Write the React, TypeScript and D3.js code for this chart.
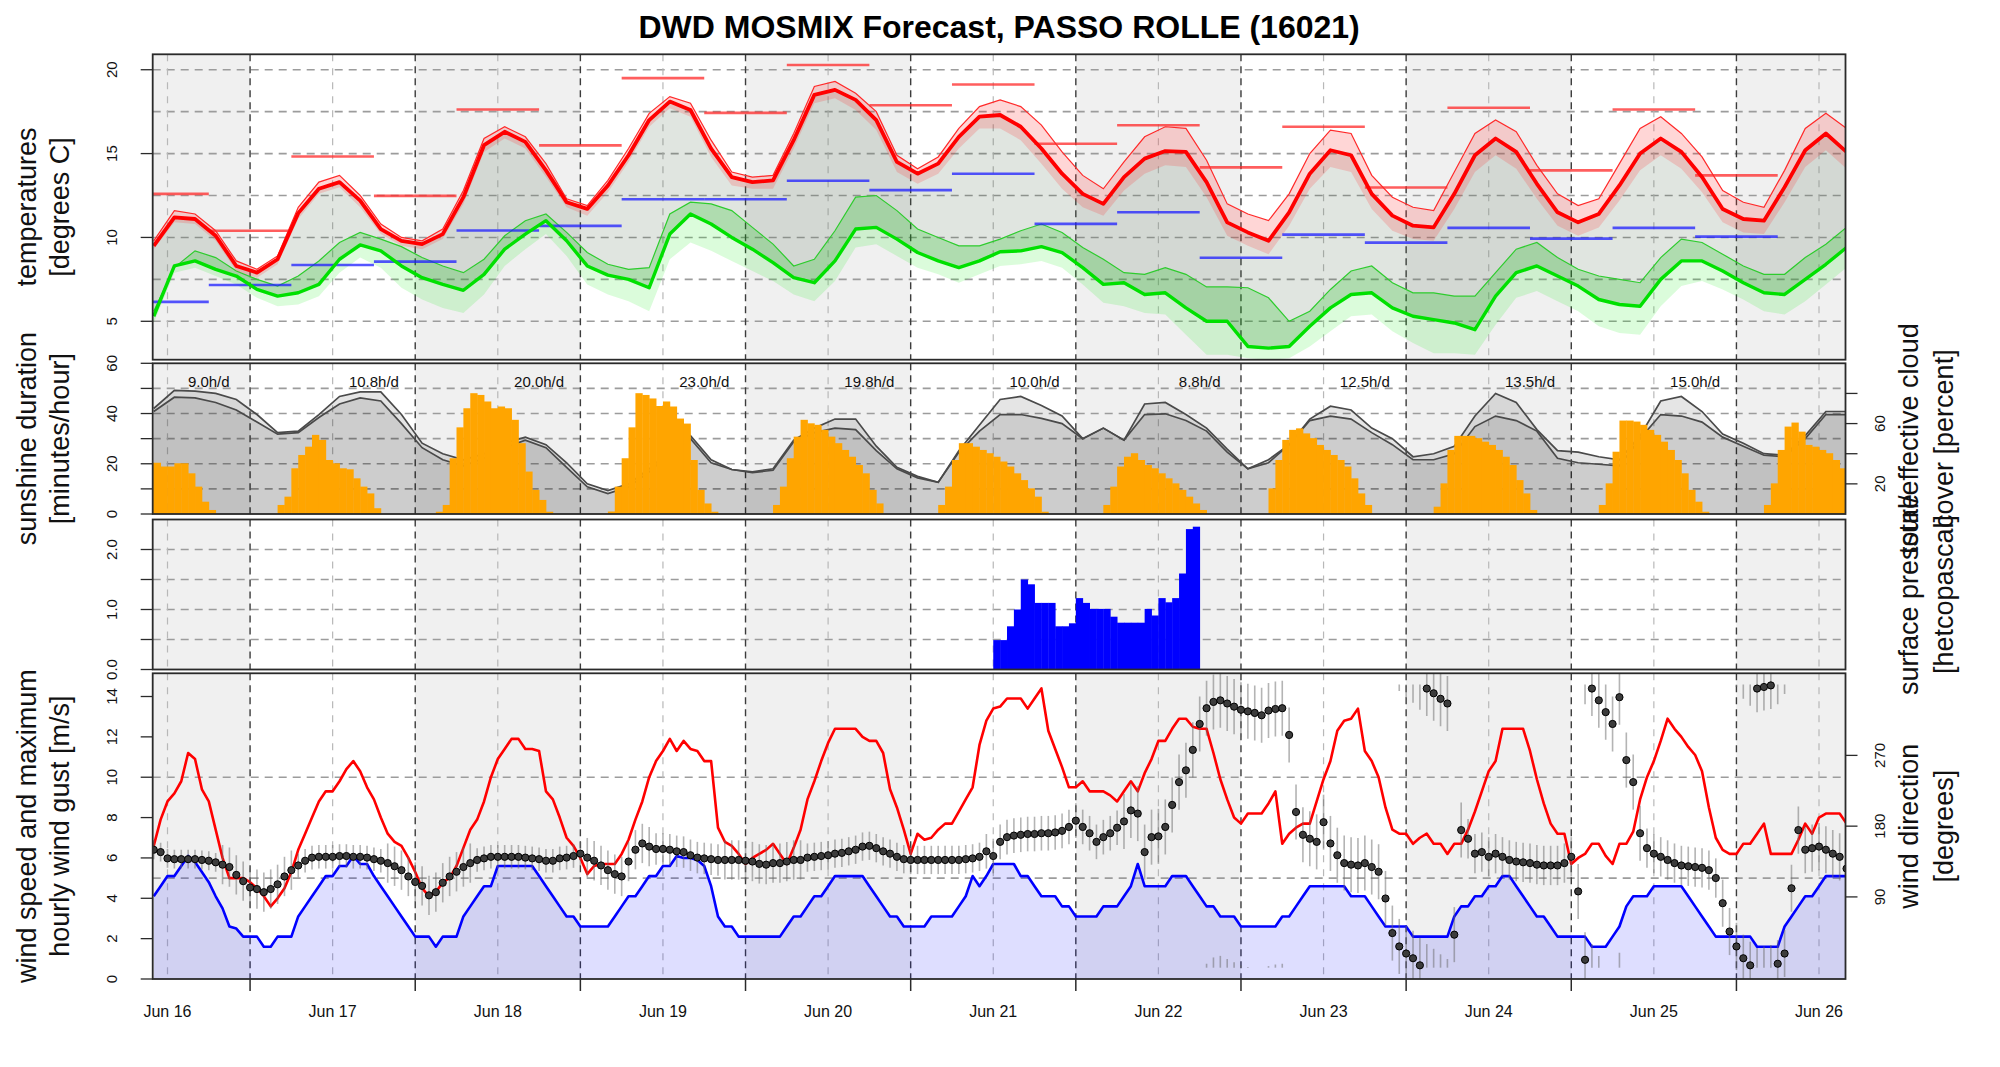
import React from "react";
import * as d3 from "d3";

// ---------------- data ----------------
const TITLE = "DWD MOSMIX Forecast, PASSO ROLLE (16021)";
const DAY_LABELS = ["Jun 16", "Jun 17", "Jun 18", "Jun 19", "Jun 20", "Jun 21", "Jun 22", "Jun 23", "Jun 24", "Jun 25", "Jun 26"];
const SUN_TOTALS = ["9.0h/d", "10.8h/d", "20.0h/d", "23.0h/d", "19.8h/d", "10.0h/d", "8.8h/d", "12.5h/d", "13.5h/d", "15.0h/d"];

// hours since Jun 16 00 UTC; temperature series sampled every 3 h from hour 10
const TEMP_START_HOUR = 10;
const TEMP_STEP = 3;
const temperature = [
  9.5, 11.2, 11.1, 10.1, 8.3, 7.9, 8.7, 11.45, 12.9, 13.3,
  12.2, 10.5, 9.8, 9.6, 10.2, 12.4, 15.5, 16.3, 15.7, 14.0,
  12.1, 11.7, 13.1, 14.9, 17.0, 18.1, 17.6, 15.3, 13.6, 13.3,
  13.4, 15.8, 18.5, 18.8, 18.2, 17.0, 14.5, 13.8, 14.4, 16.0,
  17.2, 17.3, 16.6, 15.3, 13.8, 12.6, 12.0, 13.6, 14.7, 15.15,
  15.1, 13.3, 10.9, 10.3, 9.8, 11.5, 13.8, 15.2, 14.9, 12.6,
  11.3, 10.7, 10.6, 12.6, 14.9, 15.9, 15.1, 13.2, 11.5, 10.9,
  11.4, 13.1, 15.0, 15.9, 15.1, 13.6, 11.7, 11.1, 11.0, 13.0,
  15.2, 16.2, 15.1,
];
const temperatureUpper = [
  9.8, 11.6, 11.4, 10.4, 8.6, 8.1, 8.9, 11.8, 13.3, 13.7,
  12.5, 10.8, 10.0, 9.8, 10.5, 12.8, 15.9, 16.6, 16.0, 14.4,
  12.3, 11.9, 13.4, 15.3, 17.4, 18.4, 18.0, 15.8, 13.9, 13.6,
  13.7, 16.2, 19.0, 19.3, 18.6, 17.5, 14.9, 14.1, 14.8, 16.5,
  17.8, 18.2, 17.8, 16.7, 15.1, 13.7, 12.9, 14.5, 16.0, 16.6,
  16.5, 14.6, 12.0, 11.4, 11.0, 12.6, 15.0, 16.4, 16.2, 13.7,
  12.4, 11.8, 11.6, 13.9, 16.2, 17.0, 16.3, 14.3, 12.6, 11.9,
  12.3, 14.4, 16.5, 17.2, 16.2, 14.8, 12.8, 12.1, 11.8, 14.0,
  16.5, 17.4, 16.5,
];
const temperatureLower = [
  9.3, 10.9, 10.8, 9.8, 8.0, 7.6, 8.4, 11.1, 12.6, 13.0,
  11.8, 10.2, 9.5, 9.3, 9.9, 12.0, 15.1, 15.9, 15.3, 13.6,
  11.8, 11.3, 12.7, 14.5, 16.6, 17.7, 17.2, 14.8, 13.1, 12.9,
  12.9, 15.3, 18.0, 18.3, 17.6, 16.4, 13.9, 13.2, 13.8, 15.3,
  16.5, 16.5, 15.8, 14.4, 12.9, 11.8, 11.3, 12.8, 13.8, 14.3,
  14.2, 12.4, 10.1, 9.5, 9.0, 10.7, 12.9, 14.2, 13.9, 11.7,
  10.4, 9.9, 9.8, 11.7, 13.9, 14.9, 14.1, 12.3, 10.7, 10.1,
  10.6, 12.2, 14.0, 14.9, 14.1, 12.7, 10.9, 10.3, 10.2, 12.1,
  14.2, 15.2, 14.1,
];
const dewPoint = [
  5.3, 8.3, 8.6, 8.1, 7.7, 6.9, 6.5, 6.7, 7.2, 8.7,
  9.55, 9.2, 8.3, 7.6, 7.2, 6.85, 7.8, 9.3, 10.2, 11.0,
  9.8, 8.3, 7.75, 7.5, 7.0, 10.2, 11.4, 10.8, 10.0, 9.3,
  8.5, 7.6, 7.3, 8.6, 10.5, 10.6, 9.9, 9.1, 8.6, 8.2,
  8.6, 9.15, 9.2, 9.45, 9.1, 8.2, 7.2, 7.3, 6.6, 6.7,
  5.8, 5.0, 5.0, 3.5, 3.4, 3.5, 4.7, 5.8, 6.6, 6.7,
  5.8, 5.3, 5.1, 4.9, 4.5, 6.5, 7.9, 8.3, 7.7, 7.1,
  6.3, 6.0, 5.9, 7.5, 8.6, 8.6, 8.0, 7.3, 6.7, 6.6,
  7.5, 8.4, 9.4,
];
const dewPointUpper = [
  5.6, 8.2, 9.2, 8.8, 8.0, 7.5, 7.1, 7.7, 8.6, 9.7,
  10.3, 9.9, 9.45, 8.8, 8.3, 7.9, 8.7, 10.1, 11.0, 11.4,
  10.3, 9.1, 8.4, 8.1, 8.2, 11.4, 12.1, 12.0, 11.6, 10.6,
  9.6, 8.3, 8.7, 10.4, 12.4, 12.5, 11.6, 10.5, 10.0, 9.5,
  9.5, 9.9, 10.4, 10.8, 10.3, 9.4, 8.7, 7.9, 7.8, 8.2,
  7.8, 7.05, 7.05, 7.0, 6.4, 5.0, 5.6, 6.9, 8.0, 8.3,
  7.3, 6.7, 6.7, 6.5, 6.5, 7.9, 9.3, 9.7, 8.8, 8.1,
  7.7, 7.5, 7.3, 8.8, 9.9, 9.7, 9.0, 8.3, 7.8, 7.8,
  8.8, 9.6, 10.6,
];
const dewPointLower = [
  4.9, 7.9, 8.2, 7.7, 7.2, 6.4, 5.9, 6.0, 6.5, 7.9,
  8.8, 8.2, 7.0, 6.3, 5.8, 5.5, 6.6, 8.3, 9.3, 10.2,
  8.9, 7.2, 6.6, 6.2, 5.6, 8.7, 9.7, 9.2, 8.6, 8.0,
  7.4, 6.6, 6.2, 7.4, 9.4, 9.6, 8.9, 8.2, 7.8, 7.3,
  7.8, 8.3, 8.4, 8.6, 8.2, 7.2, 6.1, 5.9, 5.5, 5.4,
  4.2, 3.0, 3.0, 2.8, 2.7, 2.8, 3.5, 4.4, 5.3, 5.4,
  4.4, 3.7, 3.1, 3.1, 3.0, 4.8, 6.4, 6.8, 6.2, 5.6,
  4.7, 4.3, 4.2, 5.9, 7.1, 7.4, 6.9, 6.3, 5.6, 5.4,
  6.2, 7.2, 8.2,
];

// 12-hourly extremes (start hour of each 12 h window)
const extremeStartHours = [6, 18, 30, 42, 54, 66, 78, 90, 102, 114, 126, 138, 150, 162, 174, 186, 198, 210, 222, 234];
const maxTemp12h = [12.6, 10.4, 14.83, 12.48, 17.63, 15.49, 19.5, 17.43, 20.28, 17.88, 19.12, 15.59, 16.69, 14.18, 16.6, 12.98, 17.73, 14.0, 17.63, 13.7];
const minTemp12h = [6.16, 7.16, 8.36, 8.56, 10.41, 10.69, 12.28, 12.28, 13.38, 12.82, 13.8, 10.81, 11.5, 8.79, 10.17, 9.69, 10.57, 9.93, 10.57, 10.05];

// cloud cover [%], same 3 h grid
const cloudTotal = [
  70, 82, 81.5, 80, 76, 66, 54, 55, 66, 78,
  81, 81, 66, 47, 40, 36, 40, 47, 51, 46,
  34, 20, 15.5, 20, 30, 42, 52, 36, 29.5, 28,
  30, 49, 57, 63, 63, 45, 31, 25, 21, 42,
  59, 76, 78, 72, 65, 50, 57, 49, 73, 74,
  66, 57, 43, 30, 36, 46, 63, 71.5, 69, 57,
  50, 38, 40, 45, 65, 80, 74, 56, 42, 41,
  38, 36, 52, 75, 78, 68, 53, 47, 40, 39,
  52, 68, 68,
];
const cloudEffective = [
  68, 77.5, 77, 74, 69, 61, 53, 54, 64, 73,
  77, 75, 60, 44, 36, 32, 37, 44, 49, 44,
  31, 18, 13.5, 18, 28, 40, 50, 34, 29.5, 27.5,
  29, 48, 54, 57, 56, 42, 30, 24, 21, 41,
  55, 66, 66, 63.5, 60, 50, 57, 49, 66, 66.5,
  62, 55, 41, 30, 34, 46, 62, 65, 63, 54,
  46, 36, 36, 40, 58, 65, 62, 55, 37, 34,
  33, 32, 50, 66, 65, 61, 51, 45, 39, 38,
  50, 66, 66,
];

// hourly sunshine [min/h], one list per day starting at the given hour
const sunDayStart = [9, 28, 51, 76, 100, 124, 148, 172, 196, 220, 244];
const sunDayMinutes = [
  [20.4, 20.4, 18.9, 18.9, 20.2, 20.2, 16.2, 10.9, 4.9, 1.6],
  [3.6, 6.9, 18.2, 23.5, 26.8, 31.5, 29.5, 21.5, 20.2, 18.2, 17.8, 14.2, 10.9, 8.2, 2.3],
  [0.9, 3.6, 22.2, 34.5, 42.1, 48.1, 47.4, 44.8, 42.1, 42.8, 42.1, 37.5, 28.2, 16.9, 9.6, 5.6, 0.9],
  [1.0, 10.9, 22.2, 34.5, 48.1, 47.4, 46.0, 43.0, 44.8, 42.8, 38.0, 36.0, 21.5, 9.6, 4.2, 0.9],
  [3.6, 10.9, 22.2, 30.8, 37.5, 36.1, 35.5, 33.5, 30.8, 28.2, 25.5, 22.8, 19.5, 16.2, 9.6, 4.2],
  [3.6, 10.9, 21.5, 28.2, 28.2, 26.8, 25.5, 24.2, 22.8, 20.9, 18.9, 16.2, 13.5, 10.2, 6.9, 0.9],
  [3.6, 10.9, 18.9, 22.8, 24.2, 21.5, 19.5, 18.2, 16.2, 14.2, 12.2, 9.6, 6.9, 4.2, 1.6],
  [10.2, 21.5, 29.5, 33.5, 34.1, 32.1, 30.2, 27.5, 25.5, 23.5, 21.5, 18.9, 14.2, 8.2, 3.6],
  [2.9, 12.2, 25.5, 31.1, 31.1, 31.1, 30.2, 28.8, 27.5, 25.5, 22.8, 19.5, 13.5, 8.2, 1.6],
  [3.6, 12.2, 24.8, 37.2, 37.2, 36.8, 35.5, 33.5, 31.5, 28.8, 25.5, 21.5, 16.2, 9.6, 4.9, 0.9],
  [3.6, 12.2, 25.5, 34.8, 36.4, 32.8, 27.5, 26.8, 25.5, 24.2, 21.5, 18.2],
];

// hourly bars in the third panel, from hour 132
const precipStartHour = 132;
const precip = [
  0.49, 0.49, 0.72, 1.0, 1.5, 1.42, 1.11, 1.11, 1.11, 0.72,
  0.72, 0.77, 1.19, 1.11, 1.01, 1.01, 1.01, 0.88, 0.78, 0.78,
  0.78, 0.78, 1.01, 0.9, 1.19, 1.12, 1.19, 1.6, 2.34, 2.38,
];

// hourly wind from hour 10
const WIND_START_HOUR = 10;
const windSpeed = [
  4.1, 4.6, 5.1, 5.1, 5.6, 6.1, 5.8, 5.3, 4.8, 4.1,
  3.5, 2.6, 2.5, 2.1, 2.1, 2.1, 1.6, 1.6, 2.1, 2.1,
  2.1, 3.1, 3.6, 4.1, 4.6, 5.1, 5.1, 5.6, 5.6, 6.1,
  5.7, 5.7, 5.1, 4.6, 4.1, 3.6, 3.1, 2.6, 2.1, 2.1,
  2.1, 1.6, 2.1, 2.1, 2.1, 3.1, 3.6, 4.1, 4.6, 4.6,
  5.6, 5.6, 5.6, 5.6, 5.6, 5.6, 5.1, 4.6, 4.1, 3.6,
  3.1, 3.1, 2.6, 2.6, 2.6, 2.6, 2.6, 3.1, 3.6, 4.1,
  4.1, 4.6, 5.1, 5.1, 5.6, 5.6, 6.1, 6.0, 6.0, 5.9,
  5.6, 4.6, 3.1, 2.6, 2.6, 2.1, 2.1, 2.1, 2.1, 2.1,
  2.1, 2.1, 2.6, 3.1, 3.1, 3.6, 4.1, 4.1, 4.6, 5.1,
  5.1, 5.1, 5.1, 5.1, 4.6, 4.1, 3.6, 3.1, 3.1, 2.6,
  2.6, 2.6, 2.6, 3.1, 3.1, 3.1, 3.1, 3.6, 4.1, 5.1,
  4.6, 5.1, 5.7, 5.7, 5.7, 5.7, 5.1, 5.1, 4.6, 4.1,
  4.1, 4.1, 3.6, 3.6, 3.1, 3.1, 3.1, 3.1, 3.6, 3.6,
  3.6, 4.1, 4.6, 5.7, 4.6, 4.6, 4.6, 4.6, 5.1, 5.1,
  5.1, 4.6, 4.1, 3.6, 3.6, 3.1, 3.1, 3.1, 2.6, 2.6,
  2.6, 2.6, 2.6, 2.6, 3.1, 3.1, 3.6, 4.1, 4.6, 4.6,
  4.6, 4.6, 4.6, 4.6, 4.1, 4.1, 4.1, 3.6, 3.1, 2.6,
  2.6, 2.6, 2.6, 2.1, 2.1, 2.1, 2.1, 2.1, 2.1, 3.1,
  3.6, 3.6, 4.1, 4.1, 4.6, 4.6, 5.1, 5.1, 4.6, 4.1,
  3.6, 3.1, 3.1, 2.6, 2.1, 2.1, 2.1, 2.1, 2.1, 1.6,
  1.6, 1.6, 2.1, 2.6, 3.6, 4.1, 4.1, 4.1, 4.6, 4.6,
  4.6, 4.6, 4.6, 4.1, 3.6, 3.1, 2.6, 2.1, 2.1, 2.1,
  2.1, 2.1, 2.1, 1.6, 1.6, 1.6, 1.6, 2.6, 3.1, 3.6,
  4.1, 4.1, 4.6, 5.1, 5.1, 5.1, 5.1,
];
const windGust = [
  6.6, 7.9, 8.8, 9.2, 9.8, 11.2, 10.9, 9.4, 8.8, 7.4,
  6.0, 5.0, 5.0, 5.0, 4.8, 4.5, 4.1, 3.6, 4.0, 4.5,
  5.3, 6.4, 7.2, 8.0, 8.8, 9.3, 9.3, 9.8, 10.4, 10.8,
  10.3, 9.5, 8.9, 8.0, 7.2, 6.8, 6.6, 6.0, 5.3, 4.5,
  4.1, 4.3, 4.8, 5.0, 5.6, 6.5, 7.4, 7.9, 8.8, 10.0,
  10.9, 11.4, 11.9, 11.9, 11.4, 11.4, 11.3, 9.3, 8.9, 8.0,
  7.0, 6.6, 6.0, 5.2, 5.6, 5.7, 5.7, 5.7, 6.2, 6.9,
  7.9, 8.8, 10.0, 10.8, 11.3, 11.9, 11.3, 11.8, 11.4, 11.3,
  10.8, 10.8, 7.5, 6.8, 6.6, 6.2, 5.7, 6.0, 6.2, 6.4,
  6.7, 6.2, 5.7, 6.5, 7.4, 8.9, 9.8, 10.8, 11.7, 12.4,
  12.4, 12.4, 12.4, 12.0, 11.8, 11.8, 11.2, 9.4, 8.5, 7.4,
  6.2, 7.2, 6.9, 7.0, 7.4, 7.7, 7.7, 8.3, 8.9, 9.5,
  11.6, 12.8, 13.4, 13.5, 13.9, 13.9, 13.9, 13.4, 13.9, 14.4,
  12.3, 11.4, 10.5, 9.5, 9.5, 9.8, 9.3, 9.3, 9.3, 9.1,
  8.8, 9.3, 9.8, 9.3, 10.2, 10.9, 11.8, 11.8, 12.4, 12.9,
  12.9, 12.5, 12.4, 12.4, 11.2, 9.9, 8.9, 8.0, 7.7, 8.2,
  8.2, 8.2, 8.7, 9.3, 6.7, 7.2, 7.5, 7.7, 7.7, 8.8,
  9.9, 10.8, 12.3, 12.8, 12.9, 13.4, 11.3, 10.8, 10.0, 8.5,
  7.4, 7.2, 7.2, 6.7, 7.0, 7.2, 6.7, 6.7, 6.2, 6.7,
  6.7, 7.4, 8.3, 9.3, 10.3, 10.8, 12.4, 12.4, 12.4, 12.4,
  11.3, 9.9, 8.7, 7.7, 7.2, 7.2, 5.7, 6.0, 6.2, 6.7,
  6.7, 6.1, 5.7, 6.7, 6.7, 7.3, 8.9, 10.0, 10.8, 11.8,
  12.9, 12.4, 12.0, 11.5, 11.1, 10.3, 8.5, 7.0, 6.4, 6.2,
  6.2, 6.7, 6.7, 7.2, 7.7, 6.2, 6.2, 6.2, 6.2, 6.9,
  7.7, 7.2, 8.0, 8.2, 8.2, 8.2, 7.7,
];
const windDir = [
  150, 147, 139, 138, 138, 138, 138, 137, 136, 134,
  131, 128, 118, 110, 102, 100, 96, 100, 106, 116,
  124, 130, 136, 140, 141, 141, 141, 142, 142, 141,
  141, 140, 138, 136, 133, 129, 124, 116, 109, 104,
  92, 96, 108, 116, 122, 128, 133, 137, 139, 141,
  141, 141, 141, 141, 140, 139, 138, 136, 136, 139,
  140, 142, 145, 140, 136, 130, 124, 119, 116, 135,
  150, 158, 154, 151, 151, 150, 148, 147, 143, 140,
  139, 138, 137, 137, 137, 137, 136, 135, 132, 131,
  133, 133, 135, 137, 137, 140, 141, 142, 143, 145,
  146, 148, 150, 154, 155, 152, 148, 145, 141, 138,
  137, 137, 137, 137, 137, 137, 137, 137, 138, 139,
  141, 148, 142, 160, 166, 168, 169, 170, 170, 171,
  171, 172, 174, 179, 187, 179, 171, 160, 166, 171,
  178, 186, 200, 196, 147, 166, 167, 179, 207, 236,
  251, 277, 310, 330, 338, 340, 336, 332, 328, 326,
  324, 321, 327, 329, 330, 296, 198, 169, 164, 160,
  185, 158, 143, 133, 131, 130, 133, 128, 122, 88,
  44, 27, 18, 12, 3, 355, 349, 342, 336, 42,
  175, 164, 145, 147, 141, 145, 141, 137, 135, 134,
  133, 131, 130, 130, 130, 133, 141, 97, 10, 355,
  340, 325, 310, 344, 264, 236, 171, 152, 145, 141,
  137, 133, 130, 129, 128, 127, 124, 114, 82, 46,
  27, 12, 3, 355, 357, 359, 5, 18, 101, 175,
  150, 152, 154, 150, 145, 141, 126,
];
// [from hour, to hour, +/- degrees]
const windDirSpread = [
  [10, 19, 12], [20, 30, 25], [31, 43, 15], [44, 56, 25], [57, 72, 15], [73, 82, 25],
  [83, 92, 20], [93, 104, 25], [105, 130, 18], [131, 150, 22], [151, 200, 35],
  [201, 216, 25], [217, 226, 35], [227, 237, 25], [238, 256, 30],
];

// ---------------- layout ----------------
const W = 2000;
const H = 1067;
const X0 = 152.7;
const X1 = 1845.5;
const T0 = 9.85;
const T1 = 255.85;
const P1 = { top: 54.3, bottom: 359.7 };
const P2 = { top: 363.3, bottom: 514 };
const P3 = { top: 519.5, bottom: 669.5 };
const P4 = { top: 673.3, bottom: 979 };
const FONT = "'Liberation Sans', Arial, Helvetica, sans-serif";

const x = d3.scaleLinear().domain([T0, T1]).range([X0, X1]);
const yT = d3.scaleLinear().domain([2.71, 20.92]).range([P1.bottom, P1.top]);
const ySun = d3.scaleLinear().domain([0, 60]).range([P2.bottom, P2.top]);
const yCloud = d3.scaleLinear().domain([0, 100]).range([P2.bottom, P2.top]);
const yP = d3.scaleLinear().domain([0, 2.5]).range([P3.bottom, P3.top]);
const yW = d3.scaleLinear().domain([0, 15.15]).range([P4.bottom, P4.top]);
const yDir = d3.scaleLinear().domain([-14.4, 374.4]).range([P4.bottom, P4.top]);

const hours3 = temperature.map((_, i) => TEMP_START_HOUR + i * TEMP_STEP);
const hours1 = windSpeed.map((_, i) => WIND_START_HOUR + i);
const dayIndex = d3.range(0, 11);
const midnights = d3.range(24, 241, 24);
const noons = d3.range(12, 253, 24);

function spreadAt(h: number) {
  for (const [a, b, s] of windDirSpread) if (h >= a && h <= b) return s;
  return 20;
}

function bandLine(values: number[], hours: number[], y: any) {
  return d3.line<number>().x((_, i) => x(hours[i])).y((d) => y(d))(values) || "";
}
function bandArea(lo: number[], hi: number[], hours: number[], y: any) {
  return (
    d3
      .area<number>()
      .x((_, i) => x(hours[i]))
      .y0((d) => y(d))
      .y1((_, i) => y(hi[i]))(lo) || ""
  );
}

function Background({ p }: any) {
  return (
    <g>
      <rect x={X0} y={p.top} width={X1 - X0} height={p.bottom - p.top} fill="#ffffff" />
      {dayIndex.map((k) =>
        k % 2 === 0 ? (
          <rect
            key={k}
            x={x(Math.max(24 * k, T0))}
            y={p.top}
            width={x(Math.min(24 * k + 24, T1)) - x(Math.max(24 * k, T0))}
            height={p.bottom - p.top}
            fill="#f0f0f0"
          />
        ) : null
      )}
    </g>
  );
}

function Grid({ p, y, values }: any) {
  return (
    <g>
      {values.map((v: number) => (
        <line key={"h" + v} x1={X0} x2={X1} y1={y(v)} y2={y(v)} stroke="#9c9c9c" strokeWidth={1.6} strokeDasharray="8,6" />
      ))}
      {noons.map((h) => (
        <line key={"n" + h} x1={x(h)} x2={x(h)} y1={p.top} y2={p.bottom} stroke="#b8b8b8" strokeWidth={1.2} strokeDasharray="7,7" />
      ))}
      {midnights.map((h) => (
        <line key={"m" + h} x1={x(h)} x2={x(h)} y1={p.top} y2={p.bottom} stroke="#3c3c3c" strokeWidth={1.4} strokeDasharray="7,5" />
      ))}
    </g>
  );
}

function Frame({ p }: any) {
  return <rect x={X0} y={p.top} width={X1 - X0} height={p.bottom - p.top} fill="none" stroke="#2a2a2a" strokeWidth={1.8} />;
}

function LeftAxis({ y, ticks, labels, fmt }: any) {
  return (
    <g>
      {ticks.map((v: number) => (
        <line key={"t" + v} x1={X0 - 12} x2={X0} y1={y(v)} y2={y(v)} stroke="#2a2a2a" strokeWidth={1.3} />
      ))}
      {labels.map((v: number) => (
        <text key={"l" + v} transform={`translate(112,${y(v)}) rotate(-90)`} textAnchor="middle" dy="0.35em" fontSize={15} fill="#111">
          {fmt(v)}
        </text>
      ))}
    </g>
  );
}

function RightAxis({ y, ticks, labels }: any) {
  return (
    <g>
      {ticks.map((v: number) => (
        <line key={"t" + v} x1={X1} x2={X1 + 12} y1={y(v)} y2={y(v)} stroke="#2a2a2a" strokeWidth={1.3} />
      ))}
      {labels.map((v: number) => (
        <text key={"l" + v} transform={`translate(1880,${y(v)}) rotate(-90)`} textAnchor="middle" dy="0.35em" fontSize={15} fill="#111">
          {String(v)}
        </text>
      ))}
    </g>
  );
}

function Title2({ lines, y, cols }: any) {
  return (
    <g>
      {lines.map((t: string, i: number) => (
        <text key={i} transform={`translate(${cols[i]},${y}) rotate(-90)`} textAnchor="middle" dy="0.35em" fontSize={27} fill="#111">
          {t}
        </text>
      ))}
    </g>
  );
}

export default function App() {
  const clip = (id: string, p: any) => (
    <clipPath id={id}>
      <rect x={X0} y={p.top} width={X1 - X0} height={p.bottom - p.top} />
    </clipPath>
  );

  // wind direction error bars (with wrap-around at 0/360)
  const dirBars: any[] = [];
  windDir.forEach((d, i) => {
    const h = hours1[i];
    const s = spreadAt(h);
    const segs: [number, number][] = [[d - s, d + s]];
    if (d - s < 0) segs.push([d - s + 360, 360]);
    if (d + s > 360) segs.push([0, d + s - 360]);
    segs.forEach(([a, b], j) =>
      dirBars.push(
        <line key={i + "_" + j} x1={x(h)} x2={x(h)} y1={yDir(a)} y2={yDir(b)} stroke="rgba(105,105,105,0.5)" strokeWidth={1.6} />
      )
    );
  });

  return (
    <svg width={W} height={H} style={{ position: "absolute", left: 0, top: 0, background: "#ffffff" }} fontFamily={FONT}>
      <defs>
        {clip("c1", P1)}
        {clip("c2", P2)}
        {clip("c3", P3)}
        {clip("c4", P4)}
      </defs>
      <rect x={0} y={0} width={W} height={H} fill="#ffffff" />

      <text x={(X0 + X1) / 2} y={38} textAnchor="middle" fontSize={32} fontWeight="bold" fill="#000">
        {TITLE}
      </text>

      {/* ---------- panel 1: temperatures ---------- */}
      <Background p={P1} />
      <Grid p={P1} y={yT} values={[5, 7.5, 10, 12.5, 15, 17.5, 20]} />
      <g clipPath="url(#c1)">
        <path d={bandArea(dewPoint, temperature, hours3, yT)} fill="rgba(70,100,70,0.17)" />
        <path d={bandArea(dewPointLower, dewPoint, hours3, yT)} fill="rgba(0,235,0,0.14)" />
        <path d={bandArea(dewPoint, dewPointUpper, hours3, yT)} fill="rgba(0,190,0,0.22)" />
        <path d={bandLine(dewPointUpper, hours3, yT)} fill="none" stroke="#2ecc2e" strokeWidth={1.2} />
        <path d={bandArea(temperatureLower, temperatureUpper, hours3, yT)} fill="rgba(255,50,50,0.2)" />
        <path d={bandLine(temperatureUpper, hours3, yT)} fill="none" stroke="#ff2a2a" strokeWidth={1.2} />
        {extremeStartHours.map((h, i) => (
          <line key={"tx" + i} x1={x(h)} x2={x(h + 12)} y1={yT(maxTemp12h[i])} y2={yT(maxTemp12h[i])} stroke="rgba(255,40,40,0.75)" strokeWidth={2.6} />
        ))}
        {extremeStartHours.map((h, i) => (
          <line key={"tn" + i} x1={x(h)} x2={x(h + 12)} y1={yT(minTemp12h[i])} y2={yT(minTemp12h[i])} stroke="rgba(30,30,255,0.75)" strokeWidth={2.6} />
        ))}
        <path d={bandLine(dewPoint, hours3, yT)} fill="none" stroke="#00e000" strokeWidth={3.4} strokeLinejoin="round" />
        <path d={bandLine(temperature, hours3, yT)} fill="none" stroke="#ff0000" strokeWidth={3.8} strokeLinejoin="round" />
      </g>
      <Frame p={P1} />
      <LeftAxis y={yT} ticks={[5, 10, 15, 20]} labels={[5, 10, 15, 20]} fmt={(v: number) => String(v)} />

      {/* ---------- panel 2: sunshine / cloud ---------- */}
      <Background p={P2} />
      <Grid p={P2} y={ySun} values={[10, 20, 30, 40, 50]} />
      <g clipPath="url(#c2)">
        <path d={d3.area<number>().x((_, i) => x(hours3[i])).y0(yCloud(0)).y1((d) => yCloud(d))(cloudTotal) || ""} fill="rgba(0,0,0,0.1)" />
        <path d={d3.area<number>().x((_, i) => x(hours3[i])).y0(yCloud(0)).y1((d) => yCloud(d))(cloudEffective) || ""} fill="rgba(0,0,0,0.1)" />
        <path d={bandLine(cloudTotal, hours3, yCloud)} fill="none" stroke="#4a4a4a" strokeWidth={1.7} />
        <path d={bandLine(cloudEffective, hours3, yCloud)} fill="none" stroke="#4a4a4a" strokeWidth={1.7} />
        {sunDayMinutes.map((vals, k) =>
          vals.map((v, j) => {
            const h = sunDayStart[k] + j;
            return (
              <rect key={k + "_" + j} x={x(h)} y={ySun(v)} width={x(h + 1) - x(h) + 0.4} height={ySun(0) - ySun(v)} fill="#ffa500" />
            );
          })
        )}
      </g>
      {SUN_TOTALS.map((t, k) => (
        <text key={t + k} x={x(18 + 24 * k)} y={387} textAnchor="middle" fontSize={15} fill="#111">
          {t}
        </text>
      ))}
      <Frame p={P2} />
      <LeftAxis y={ySun} ticks={[0, 10, 20, 30, 40, 50, 60]} labels={[0, 20, 40, 60]} fmt={(v: number) => String(v)} />
      <RightAxis y={yCloud} ticks={[20, 40, 60, 80]} labels={[20, 60]} />

      {/* ---------- panel 3 ---------- */}
      <Background p={P3} />
      <Grid p={P3} y={yP} values={[0.5, 1, 1.5, 2]} />
      <g clipPath="url(#c3)">
        {precip.map((v, j) => {
          const h = precipStartHour + j;
          return <rect key={j} x={x(h)} y={yP(v)} width={x(h + 1) - x(h) + 0.4} height={yP(0) - yP(v)} fill="#0000ff" />;
        })}
      </g>
      <Frame p={P3} />
      <LeftAxis y={yP} ticks={[0, 0.5, 1, 1.5, 2]} labels={[0, 1, 2]} fmt={(v: number) => v.toFixed(1)} />

      {/* ---------- panel 4: wind ---------- */}
      <Background p={P4} />
      <Grid p={P4} y={yW} values={[5, 10]} />
      <g clipPath="url(#c4)">
        <path d={d3.area<number>().x((_, i) => x(hours1[i])).y0(yW(0)).y1((d) => yW(d))(windSpeed) || ""} fill="rgba(0,0,255,0.13)" />
        <path d={bandLine(windSpeed, hours1, yW)} fill="none" stroke="#0000ff" strokeWidth={2.6} strokeLinejoin="round" />
        <path d={bandLine(windGust, hours1, yW)} fill="none" stroke="#ff0000" strokeWidth={2.6} strokeLinejoin="round" />
        {dirBars}
        {windDir.map((d, i) => (
          <circle key={i} cx={x(hours1[i])} cy={yDir(d)} r={3.6} fill="#3c3c3c" stroke="#000" strokeWidth={1} />
        ))}
      </g>
      <Frame p={P4} />
      <LeftAxis y={yW} ticks={[0, 2, 4, 6, 8, 10, 12, 14]} labels={[0, 2, 4, 6, 8, 10, 12, 14]} fmt={(v: number) => String(v)} />
      <RightAxis y={yDir} ticks={[90, 180, 270]} labels={[90, 180, 270]} />

      {/* x axis */}
      {midnights.map((h) => (
        <line key={"xt" + h} x1={x(h)} x2={x(h)} y1={P4.bottom} y2={P4.bottom + 12} stroke="#2a2a2a" strokeWidth={1.5} />
      ))}
      {DAY_LABELS.map((t, k) => (
        <text key={t} x={x(12 + 24 * k)} y={1017} textAnchor="middle" fontSize={16} fill="#111">
          {t}
        </text>
      ))}

      {/* axis titles */}
      <Title2 lines={["temperatures", "[degrees C]"]} y={(P1.top + P1.bottom) / 2} cols={[27, 60]} />
      <Title2 lines={["sunshine duration", "[minutes/hour]"]} y={(P2.top + P2.bottom) / 2} cols={[27, 60]} />
      <Title2 lines={["wind speed and maximum", "hourly wind gust [m/s]"]} y={(P4.top + P4.bottom) / 2} cols={[27, 60]} />
      <Title2 lines={["total/effective cloud", "cover [percent]"]} y={(P2.top + P2.bottom) / 2} cols={[1909, 1944]} />
      <Title2 lines={["surface pressure", "[hetcopascal]"]} y={(P3.top + P3.bottom) / 2} cols={[1909, 1944]} />
      <Title2 lines={["wind direction", "[degrees]"]} y={(P4.top + P4.bottom) / 2} cols={[1909, 1944]} />
    </svg>
  );
}
